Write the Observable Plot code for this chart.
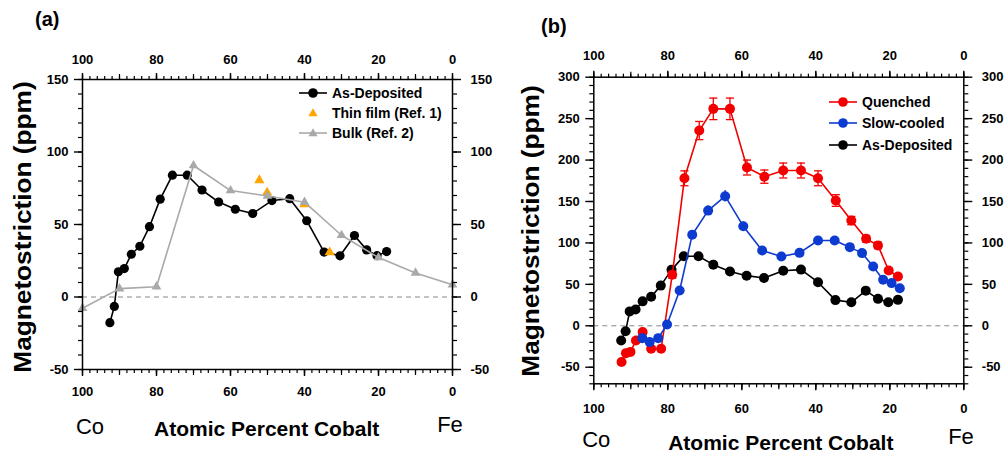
<!DOCTYPE html>
<html><head><meta charset="utf-8">
<script src="https://cdn.jsdelivr.net/npm/d3@7"></script>
<script src="https://cdn.jsdelivr.net/npm/@observablehq/plot@0.6"></script>
<style>
body{margin:0;background:#fff;}
#wrap{position:relative;width:1007px;height:456px;overflow:hidden;font-family:"Liberation Sans",Arial,sans-serif;color:#000;background:#fff;}
.abs{position:absolute;white-space:nowrap;line-height:1;}
.ylab{font-weight:bold;font-size:23px;transform:translate(-50%,-50%) rotate(-90deg) scaleX(1.14);}
.xlab{font-weight:bold;font-size:21px;transform:translate(-50%,-50%);}
.el{font-size:22px;transform:translate(-50%,-50%);}
.plab{font-weight:bold;font-size:20px;transform:translate(0,-50%);}
.leg{font-weight:bold;font-size:14px;transform:translate(0,-50%);}
</style>
</head><body>
<div id="wrap"></div>
<script>
// ---------- data ----------
const asDepCo = [92.6, 91.4, 90.3, 88.7, 86.8, 84.5, 81.9, 79.0, 75.7, 71.7, 67.7, 63.2, 58.7, 54.0, 48.8, 44.0, 39.4, 34.7, 30.4, 26.5, 23.2, 20.4, 17.8];
const asDepMs = [-17.7, -6.5, 17.4, 19.6, 29.5, 35, 48.5, 67.5, 84, 84, 73.8, 65.5, 60.5, 57.6, 66.5, 67.8, 52.6, 31, 28.4, 42.4, 32.5, 28.5, 31.3];

const thinCo = [52.2, 50.1, 40.0, 33.2];
const thinMs = [80.5, 72, 64, 30.8];

const bulkCo = [100, 90, 80, 70, 60, 50, 40, 30, 20, 10, 0];
const bulkMs = [-7.8, 5.8, 7.1, 90.7, 73.4, 69.7, 65.4, 42.6, 27.2, 16.6, 8.5];

const quenchCo = [92.5, 91.3, 90.1, 88.6, 86.8, 84.5, 81.8, 78.8, 75.5, 71.5, 67.7, 63.2, 58.6, 53.9, 48.8, 44.0, 39.4, 34.6, 30.4, 26.4, 23.2, 20.3, 17.8];
const quenchMs = [-43.8, -33, -31.5, -17.7, -7.6, -27.7, -27.7, 61.5, 178, 235.6, 261.8, 261.8, 191, 180, 187.4, 187.4, 178, 151.2, 127, 105, 97, 66.7, 59.5];
const quenchErr = [2, 2, 2, 2, 2, 2, 2, 4, 9, 11, 13, 13, 9, 8, 9, 9, 9, 7, 5, 4, 4, 3, 3];

const slowCo = [86.9, 84.9, 82.6, 80.2, 76.8, 73.4, 69.1, 64.5, 59.6, 54.5, 49.3, 44.4, 39.4, 34.9, 30.8, 27.5, 24.5, 21.8, 19.5, 17.3];
const slowMs = [-14.9, -19.7, -14.9, 1.6, 42.6, 109.8, 139, 156.4, 120.2, 90.9, 83.6, 88, 102.9, 102.9, 94.9, 87.7, 71.6, 55.5, 51.5, 45.4];
const slowErr = [2, 2, 2, 2, 3, 5, 6, 7, 5, 4, 4, 4, 4, 4, 4, 4, 3, 3, 3, 3];

const xTickLabels = [100, 80, 60, 40, 20, 0];
const yTicksA = [-50, 0, 50, 100, 150];
const yTicksB = [-50, 0, 50, 100, 150, 200, 250, 300];

const legendA = ["As-Deposited", "Thin film (Ref. 1)", "Bulk (Ref. 2)"];
const legendB = ["Quenched", "Slow-cooled", "As-Deposited"];

// ---------- helpers ----------
const zip = (xs, ys, es) => xs.map((x, i) => ({x, y: ys[i], e: es ? es[i] : 0}));
const asDep = zip(asDepCo, asDepMs);
const thin = zip(thinCo, thinMs);
const bulk = zip(bulkCo, bulkMs);
const quench = zip(quenchCo, quenchMs, quenchErr);
const slow = zip(slowCo, slowMs, slowErr);

const RED = "#f20000", BLUE = "#0d3bd0", GRAY = "#a9a9a9", ORANGE = "#ffa500";
const fmt = d => String(d);
const blank = () => "";

function axes(yMin, yMax, yMajor, padTop, padBottom) {
  const xMinor = d3.range(0, 101, 2), xMid = d3.range(0, 101, 10);
  const yMinor = d3.range(Math.ceil(yMin / 10) * 10, yMax + 1, 10);
  const out = [];
  for (const anchor of ["top", "bottom"]) {
    out.push(Plot.axisX(xMinor, {anchor, tickSize: 4, tickFormat: blank, label: null, strokeWidth: 1.2}));
    out.push(Plot.axisX(xMid, {anchor, tickSize: 6, tickFormat: blank, label: null, strokeWidth: 1.2}));
    out.push(Plot.axisX(xTickLabels, {anchor, tickSize: 7, tickPadding: anchor === "top" ? padTop : padBottom, tickFormat: fmt, label: null, strokeWidth: 1.4}));
  }
  for (const anchor of ["left", "right"]) {
    out.push(Plot.axisY(yMinor, {anchor, tickSize: 4, tickFormat: blank, label: null, strokeWidth: 1.2}));
    out.push(Plot.axisY(yMajor, {anchor, tickSize: 8, tickPadding: anchor === "left" ? 6 : 10, tickFormat: fmt, label: null, strokeWidth: 1.4}));
  }
  return out;
}

const style = {fontFamily: '"Liberation Sans", Arial, sans-serif', fontSize: "13px", fontWeight: "bold", color: "#000", background: "transparent", overflow: "visible"};

// ---------- panel (a) ----------
const plotA = Plot.plot({
  width: 500, height: 456,
  marginLeft: 82, marginRight: 48, marginTop: 79, marginBottom: 87,
  style,
  x: {domain: [100, 0]},
  y: {domain: [-50, 150]},
  marks: [
    Plot.ruleY([0], {stroke: "#888", strokeDasharray: "5,4", strokeWidth: 1}),
    Plot.line(asDep, {x: "x", y: "y", stroke: "#000", strokeWidth: 1.6}),
    Plot.dot(asDep, {x: "x", y: "y", r: 4.6, fill: "#000", stroke: "none"}),
    Plot.dot(thin, {x: "x", y: "y", symbol: "triangle", r: 3.8, fill: ORANGE, stroke: "none"}),
    Plot.line(bulk, {x: "x", y: "y", stroke: GRAY, strokeWidth: 1.6}),
    Plot.dot(bulk, {x: "x", y: "y", symbol: "triangle", r: 3.6, fill: GRAY, stroke: "none"}),
    Plot.frame({stroke: "#000", strokeWidth: 1.5}),
    ...axes(-50, 150, yTicksA, 9, 10)
  ]
});

// ---------- panel (b) ----------
const cap = 1.1;
const plotB = Plot.plot({
  width: 507, height: 456,
  marginLeft: 93.3, marginRight: 43.7, marginTop: 76.7, marginBottom: 72.7,
  style,
  x: {domain: [100, 0]},
  y: {domain: [-70, 300]},
  marks: [
    Plot.ruleY([0], {stroke: "#888", strokeDasharray: "5,4", strokeWidth: 1}),
    Plot.line(asDep, {x: "x", y: "y", stroke: "#000", strokeWidth: 1.6}),
    Plot.dot(asDep, {x: "x", y: "y", r: 5, fill: "#000", stroke: "none"}),
    Plot.ruleX(quench, {x: "x", y1: d => d.y - d.e, y2: d => d.y + d.e, stroke: RED, strokeWidth: 1.3}),
    Plot.link(quench, {x1: d => d.x - cap, x2: d => d.x + cap, y1: d => d.y - d.e, y2: d => d.y - d.e, stroke: RED, strokeWidth: 1.3}),
    Plot.link(quench, {x1: d => d.x - cap, x2: d => d.x + cap, y1: d => d.y + d.e, y2: d => d.y + d.e, stroke: RED, strokeWidth: 1.3}),
    Plot.line(quench, {x: "x", y: "y", stroke: RED, strokeWidth: 1.6}),
    Plot.dot(quench, {x: "x", y: "y", r: 5, fill: RED, stroke: "none"}),
    Plot.ruleX(slow, {x: "x", y1: d => d.y - d.e, y2: d => d.y + d.e, stroke: BLUE, strokeWidth: 1.3}),
    Plot.line(slow, {x: "x", y: "y", stroke: BLUE, strokeWidth: 1.6}),
    Plot.dot(slow, {x: "x", y: "y", r: 5, fill: BLUE, stroke: "none"}),
    Plot.frame({stroke: "#000", strokeWidth: 1.5}),
    ...axes(-70, 300, yTicksB, 10, 13)
  ]
});

// ---------- layout ----------
const wrap = document.getElementById("wrap");
function place(node, left, top) {
  node.style.position = "absolute";
  node.style.left = left + "px";
  node.style.top = top + "px";
  wrap.appendChild(node);
}
place(plotA, 0, 0);
place(plotB, 500, 0);

function text(cls, str, x, y) {
  const d = document.createElement("div");
  d.className = "abs " + cls;
  d.textContent = str;
  d.style.left = x + "px";
  d.style.top = y + "px";
  wrap.appendChild(d);
  return d;
}
text("plab", "(a)", 35, 19);
text("plab", "(b)", 541, 26);
text("ylab", "Magnetostriction (ppm)", 22.5, 226.7);
text("ylab", "Magnetostriction (ppm)", 531, 231);
text("xlab", "Atomic Percent Cobalt", 266.7, 428.3);
text("xlab", "Atomic Percent Cobalt", 780.8, 441.7);
text("el", "Co", 90, 426.7);
text("el", "Fe", 450, 425);
text("el", "Co", 596.3, 440);
text("el", "Fe", 961, 436.7);

// legends
function legendItem(x0, y, label, color, kind, hasLine) {
  const ns = "http://www.w3.org/2000/svg";
  const svg = document.createElementNS(ns, "svg");
  svg.setAttribute("width", 30); svg.setAttribute("height", 14);
  svg.style.position = "absolute";
  svg.style.left = x0 + "px";
  svg.style.top = (y - 7) + "px";
  if (hasLine) {
    const l = document.createElementNS(ns, "line");
    l.setAttribute("x1", 1); l.setAttribute("x2", 29); l.setAttribute("y1", 7); l.setAttribute("y2", 7);
    l.setAttribute("stroke", color); l.setAttribute("stroke-width", 1.6);
    svg.appendChild(l);
  }
  if (kind === "circle") {
    const c = document.createElementNS(ns, "circle");
    c.setAttribute("cx", 15); c.setAttribute("cy", 7); c.setAttribute("r", 4.8); c.setAttribute("fill", color);
    svg.appendChild(c);
  } else {
    const p = document.createElementNS(ns, "path");
    p.setAttribute("d", "M15,2.2L19.6,10.2L10.4,10.2Z"); p.setAttribute("fill", color);
    svg.appendChild(p);
  }
  wrap.appendChild(svg);
  text("leg", label, x0 + 34, y);
}
legendItem(298, 93.3, legendA[0], "#000", "circle", true);
legendItem(298, 113.3, legendA[1], ORANGE, "triangle", false);
legendItem(298, 133.3, legendA[2], GRAY, "triangle", true);
legendItem(828, 102.3, legendB[0], RED, "circle", true);
legendItem(828, 123.3, legendB[1], BLUE, "circle", true);
legendItem(828, 145, legendB[2], "#000", "circle", true);
</script>
</body></html>
